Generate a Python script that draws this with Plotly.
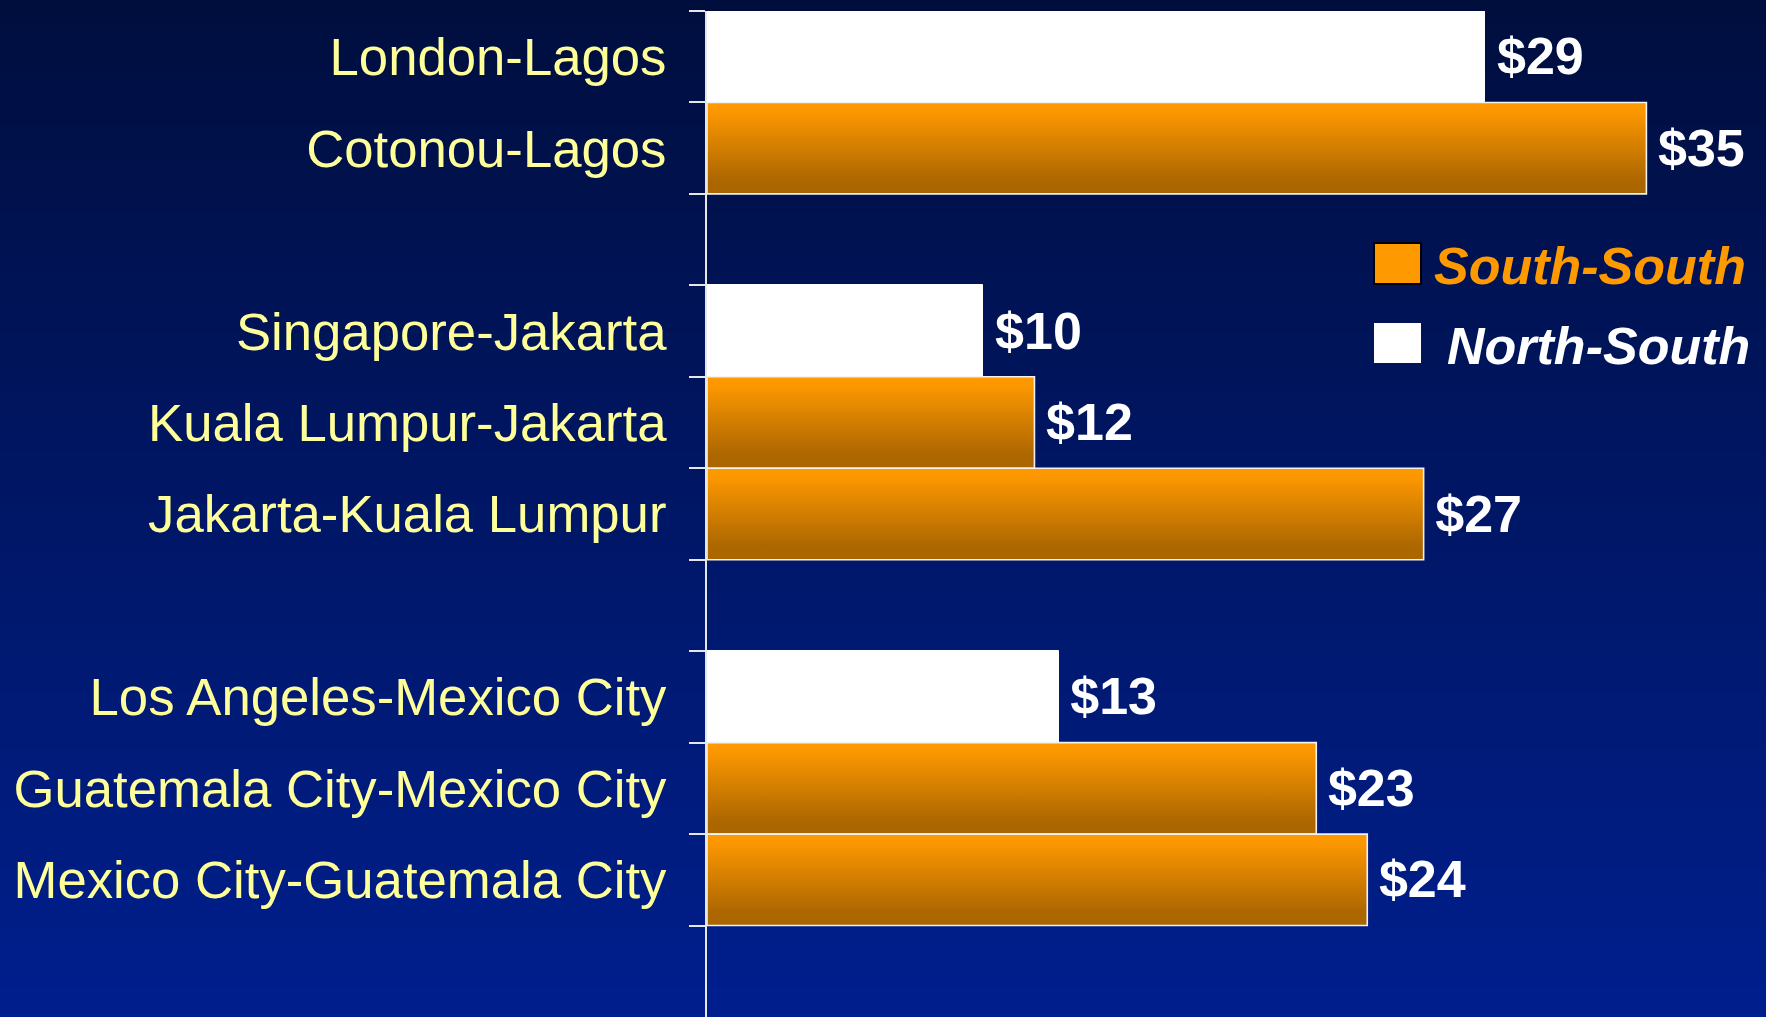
import base64
import struct
import zlib

import plotly.graph_objects as go

# ---------------- data ----------------
categories = [
    "London-Lagos",
    "Cotonou-Lagos",
    "",
    "Singapore-Jakarta",
    "Kuala Lumpur-Jakarta",
    "Jakarta-Kuala Lumpur",
    "",
    "Los Angeles-Mexico City",
    "Guatemala City-Mexico City",
    "Mexico City-Guatemala City",
    "",
]
values = [29.0, 35.0, None, 10.3, 12.2, 26.7, None, 13.1, 22.7, 24.6, None]
series = ["North-South", "South-South", None, "North-South", "South-South", "South-South",
          None, "North-South", "South-South", "South-South", None]
value_labels = ["$29", "$35", None, "$10", "$12", "$27", None, "$13", "$23", "$24", None]
legend_names = ["South-South", "North-South"]

# ---------------- style ----------------
W, H = 1766, 1017
FONT = "Arial, 'Liberation Sans', Helvetica, sans-serif"
ORANGE = "#FF9900"
ORANGE_DARK = "#AA6600"
YELLOW = "#FFFF99"
AXIS_X0 = 707
TOP = 11
LABEL_NUDGE = 0.05  # small downward nudge of value labels (category units)


def gradient_png(top_rgb, bot_rgb, n=256):
    rows = b""
    for i in range(n):
        t = i / (n - 1)
        px = bytes(int(round(a + (b - a) * t)) for a, b in zip(top_rgb, bot_rgb))
        rows += b"\x00" + px
    def chunk(tag, data):
        c = struct.pack(">I", len(data)) + tag + data
        return c + struct.pack(">I", zlib.crc32(tag + data) & 0xFFFFFFFF)
    png = b"\x89PNG\r\n\x1a\n"
    png += chunk(b"IHDR", struct.pack(">IIBBBBB", 1, n, 8, 2, 0, 0, 0))
    png += chunk(b"IDAT", zlib.compress(rows, 9))
    png += chunk(b"IEND", b"")
    return "data:image/png;base64," + base64.b64encode(png).decode()


fig = go.Figure()

positions = list(range(len(categories)))

# North-South (white) bars
ns_y = [p for p, s in zip(positions, series) if s == "North-South"]
ns_x = [v for v, s in zip(values, series) if s == "North-South"]
fig.add_trace(go.Bar(
    x=ns_x, y=ns_y, orientation="h", width=1,
    marker=dict(color="white", line=dict(color="white", width=1)),
    hoverinfo="skip", showlegend=False,
))

# South-South (orange gradient) bars, one filled shape per bar
for p, v, s in zip(positions, values, series):
    if s != "South-South":
        continue
    fig.add_trace(go.Scatter(
        x=[0, v, v, 0, 0],
        y=[p - 0.5, p - 0.5, p + 0.5, p + 0.5, p - 0.5],
        mode="lines", fill="toself",
        line=dict(color="#F2F2F2", width=1.6),
        fillgradient=dict(type="vertical", colorscale=[
            [0.0, ORANGE_DARK], [0.15, "#AD6700"], [0.88, "#FA9600"], [1.0, "#FF9A00"]]),
        hoverinfo="skip", showlegend=False,
    ))

# value labels
lab_x = [v for v in values if v is not None]
lab_y = [p + LABEL_NUDGE for p, v in zip(positions, values) if v is not None]
lab_t = [t for t in value_labels if t is not None]
fig.add_trace(go.Scatter(
    x=lab_x, y=lab_y, text=lab_t, mode="markers+text",
    marker=dict(size=17, color="rgba(0,0,0,0)"),
    textposition="middle right",
    textfont=dict(family=FONT, size=52, color="white", weight="bold"),
    hoverinfo="skip", showlegend=False, cliponaxis=False,
))

px_per_unit = 26.84
x_max = (W - AXIS_X0) / px_per_unit

fig.update_layout(
    width=W, height=H,
    margin=dict(l=0, r=0, t=0, b=0),
    paper_bgcolor="#001070",
    plot_bgcolor="rgba(0,0,0,0)",
    showlegend=False,
    bargap=0,
    xaxis=dict(
        domain=[AXIS_X0 / W, 1], range=[0, x_max],
        showgrid=False, zeroline=False, showline=False,
        showticklabels=False, ticks="", fixedrange=True,
    ),
    yaxis=dict(
        domain=[0, 1 - TOP / H], range=[len(categories) - 0.5, -0.5],
        tickmode="array", tickvals=positions, ticktext=categories,
        ticks="", showgrid=False, zeroline=False,
        showline=True, linecolor="#E6E6E6", linewidth=2,
        minor=dict(tickmode="array", tickvals=[p - 0.5 for p in positions],
                   ticks="outside", ticklen=16, tickwidth=2, tickcolor="#E6E6E6",
                   showgrid=False),
        tickfont=dict(family=FONT, size=52.7, color=YELLOW),
        ticklabelstandoff=28,
        automargin=False, fixedrange=True,
    ),
    images=[dict(
        source=gradient_png((0, 14, 62), (0, 31, 142)),
        xref="paper", yref="paper", x=0, y=1, sizex=1, sizey=1,
        xanchor="left", yanchor="top", sizing="stretch", layer="below",
    )],
)

# custom legend
sq_x0, sq_x1 = 1374 / W, 1421 / W
fig.add_shape(type="rect", xref="paper", yref="paper",
              x0=sq_x0, x1=sq_x1, y0=1 - 284 / H, y1=1 - 243 / H,
              fillcolor=ORANGE, line=dict(color="black", width=2))
fig.add_shape(type="rect", xref="paper", yref="paper",
              x0=sq_x0, x1=sq_x1, y0=1 - 363 / H, y1=1 - 323 / H,
              fillcolor="white", line=dict(color="white", width=0))
fig.add_annotation(xref="paper", yref="paper", x=1748 / W, y=1 - 266 / H,
                   xanchor="right", yanchor="middle", showarrow=False,
                   text="<b><i>" + legend_names[0] + "</i></b>",
                   font=dict(family=FONT, size=52, color=ORANGE))
fig.add_annotation(xref="paper", yref="paper", x=1752 / W, y=1 - 346 / H,
                   xanchor="right", yanchor="middle", showarrow=False,
                   text="<b><i>" + legend_names[1] + "</i></b>",
                   font=dict(family=FONT, size=52, color="white"))

fig.write_html(
    "out.html",
    config={"displayModeBar": False},
    post_script="document.body.style.margin='0';document.body.style.overflow='hidden';",
)
